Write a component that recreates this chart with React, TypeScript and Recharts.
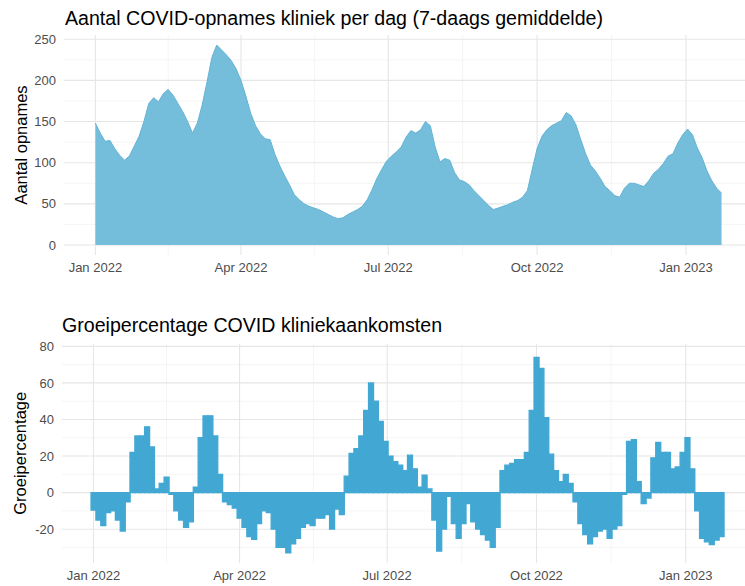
import React from "react";
import { ComposedChart, Area, Bar, XAxis, YAxis, CartesianGrid } from "recharts";

// one reading every 3 days, 1 Jan 2022 .. 23 Jan 2023
const dates = [
  "2022-01-01", "2022-01-04", "2022-01-07", "2022-01-10", "2022-01-13", "2022-01-16", "2022-01-19", "2022-01-22", "2022-01-25", "2022-01-28", "2022-01-31",
  "2022-02-03", "2022-02-06", "2022-02-09", "2022-02-12", "2022-02-15", "2022-02-18", "2022-02-21", "2022-02-24", "2022-02-27",
  "2022-03-02", "2022-03-05", "2022-03-08", "2022-03-11", "2022-03-14", "2022-03-17", "2022-03-20", "2022-03-23", "2022-03-26", "2022-03-29",
  "2022-04-01", "2022-04-04", "2022-04-07", "2022-04-10", "2022-04-13", "2022-04-16", "2022-04-19", "2022-04-22", "2022-04-25", "2022-04-28",
  "2022-05-01", "2022-05-04", "2022-05-07", "2022-05-10", "2022-05-13", "2022-05-16", "2022-05-19", "2022-05-22", "2022-05-25", "2022-05-28", "2022-05-31",
  "2022-06-03", "2022-06-06", "2022-06-09", "2022-06-12", "2022-06-15", "2022-06-18", "2022-06-21", "2022-06-24", "2022-06-27", "2022-06-30",
  "2022-07-03", "2022-07-06", "2022-07-09", "2022-07-12", "2022-07-15", "2022-07-18", "2022-07-21", "2022-07-24", "2022-07-27", "2022-07-30",
  "2022-08-02", "2022-08-05", "2022-08-08", "2022-08-11", "2022-08-14", "2022-08-17", "2022-08-20", "2022-08-23", "2022-08-26", "2022-08-29",
  "2022-09-01", "2022-09-04", "2022-09-07", "2022-09-10", "2022-09-13", "2022-09-16", "2022-09-19", "2022-09-22", "2022-09-25", "2022-09-28",
  "2022-10-01", "2022-10-04", "2022-10-07", "2022-10-10", "2022-10-13", "2022-10-16", "2022-10-19", "2022-10-22", "2022-10-25", "2022-10-28", "2022-10-31",
  "2022-11-03", "2022-11-06", "2022-11-09", "2022-11-12", "2022-11-15", "2022-11-18", "2022-11-21", "2022-11-24", "2022-11-27", "2022-11-30",
  "2022-12-03", "2022-12-06", "2022-12-09", "2022-12-12", "2022-12-15", "2022-12-18", "2022-12-21", "2022-12-24", "2022-12-27", "2022-12-30",
  "2023-01-02", "2023-01-05", "2023-01-08", "2023-01-11", "2023-01-14", "2023-01-17", "2023-01-20", "2023-01-23",
];

// Aantal opnames (7-daags gemiddelde)
const admissions = [
  148, 136, 126, 127, 117, 109, 103, 108, 120, 132, 150,
  172, 179, 174, 184, 189, 182, 172, 162, 150,
  136, 148, 170, 198, 228, 243, 237, 231, 224, 214,
  200, 181, 160, 145, 135, 129, 128, 110, 96, 84,
  73, 61, 55, 50, 47, 45, 43, 40, 37, 34, 32,
  33, 37, 40, 43, 47, 55, 67, 81, 92, 102,
  108, 113, 119, 131, 139, 136, 140, 150, 145, 119,
  101, 105, 103, 88, 79, 77, 73, 66, 60, 54,
  48, 43, 45, 47, 49, 52, 54, 58, 66, 92,
  117, 132, 140, 145, 148, 151, 161, 157, 146, 128, 111,
  97, 90, 81, 71, 66, 60, 58, 69, 75, 75,
  73, 71, 78, 87, 92, 99, 108, 111, 124, 134,
  141, 134, 118, 106, 90, 78, 69, 63,
];

// Groeipercentage (%)
const growth = [
  -9.5, -15, -18, -11, -10, -15, -21, -5, 22, 31, 31,
  36, 25, 2, 5, 8.5, -1, -10, -15, -19,
  -16, 3, 30, 42, 42, 31, 10, -5, -6.5, -8.5,
  -14, -19, -24, -25.5, -17, -10, -11, -20, -30, -30,
  -33, -28, -25, -19, -17, -18, -14, -14, -12, -20, -9,
  -12, 9, 21.5, 24, 31, 45, 60, 50, 39, 28,
  20, 17, 15, 12, 20.5, 13, 3, 9.5, 2, -15,
  -32, -20, -2, -17, -25, -17, -6, -16, -20, -23,
  -26, -30, -19, 12, 15, 16, 18, 18, 22, 45,
  74, 68, 41, 21, 12, 6, 10, 5, -5, -17, -23,
  -28, -24, -21, -20, -25, -20, -18, -1, 28, 29,
  6, -6, -3, 19, 27.5, 22, 22, 13, 14, 22,
  30, 13, -10, -25, -27, -28.5, -26, -24,
];

const monthTicks = ["2022-01-01", "2022-04-01", "2022-07-01", "2022-10-01", "2023-01-01"];
const monthLabels = ["Jan 2022", "Apr 2022", "Jul 2022", "Oct 2022", "Jan 2023"];
const minorMonthTicks = ["2022-02-15", "2022-05-16T12:00:00Z", "2022-08-16", "2022-11-16"];

const admissionTicks = [0, 50, 100, 150, 200, 250];
const admissionMinor = [25, 75, 125, 175, 225];
const growthTicks = [-20, 0, 20, 40, 60, 80];
const growthMinor = [-30, -10, 10, 30, 50, 70];

const DAY = 86400000;
const toDay = (s: string) => (Date.parse(s) - Date.parse("2022-01-01")) / DAY;

const rows = dates.map((d, i) => ({
  day: toDay(d),
  admissions: admissions[i],
  growth: growth[i],
}));

const majorDays = monthTicks.map(toDay);
const minorDays = minorMonthTicks.map(toDay);
const xDomain = [-19.4, 401.5];

const FONT = "'Liberation Sans', Arial, Helvetica, sans-serif";
const tickStyle = { fontSize: 13, fill: "#4d4d4d", fontFamily: FONT };

const fmtMonth = (v: number) => {
  const i = majorDays.indexOf(v);
  return i >= 0 ? monthLabels[i] : "";
};

const yTitle = (text: string) => ({
  value: text,
  angle: -90,
  position: "center" as const,
  dx: -11,
  style: { fontSize: 16.5, fill: "#000", fontFamily: FONT, textAnchor: "middle" as const },
});

const titleStyle: React.CSSProperties = {
  position: "absolute",
  fontFamily: FONT,
  fontSize: 19.6,
  lineHeight: "19.6px",
  color: "#000",
  whiteSpace: "nowrap",
};

export default function App() {
  return (
    <div
      style={{
        position: "fixed",
        top: 0,
        left: 0,
        width: 745,
        height: 586,
        background: "#fff",
        overflow: "hidden",
        fontFamily: FONT,
      }}
    >
      <div style={{ ...titleStyle, left: 65, top: 9.4 }}>
        Aantal COVID-opnames kliniek per dag (7-daags gemiddelde)
      </div>
      <div style={{ position: "absolute", top: 0, left: 0 }}>
        <ComposedChart width={745} height={280} data={rows} margin={{ top: 35, right: 0, bottom: 0, left: 0 }}>
          <CartesianGrid stroke="#f2f2f2" strokeWidth={0.8} verticalValues={minorDays} horizontalValues={admissionMinor} />
          <CartesianGrid stroke="#e6e6e6" strokeWidth={1.1} verticalValues={majorDays} horizontalValues={admissionTicks} />
          <XAxis
            type="number"
            dataKey="day"
            domain={xDomain}
            allowDataOverflow
            ticks={majorDays}
            interval={0}
            tickFormatter={fmtMonth}
            axisLine={false}
            tickLine={false}
            height={25}
            tick={tickStyle}
          />
          <YAxis
            type="number"
            domain={[-12.2, 255.2]}
            allowDataOverflow
            ticks={admissionTicks}
            interval={0}
            axisLine={false}
            tickLine={false}
            width={64}
            tick={tickStyle}
            label={yTitle("Aantal opnames")}
          />
          <Area
            type="linear"
            dataKey="admissions"
            fill="#74bddb"
            fillOpacity={1}
            stroke="#64b4d6"
            strokeWidth={1}
            dot={false}
            activeDot={false}
            isAnimationActive={false}
          />
        </ComposedChart>
      </div>

      <div style={{ ...titleStyle, left: 62, top: 316.4 }}>Groeipercentage COVID kliniekaankomsten</div>
      <div style={{ position: "absolute", top: 300, left: 0 }}>
        <ComposedChart
          width={745}
          height={286}
          data={rows}
          margin={{ top: 43.6, right: 0, bottom: 0, left: 0 }}
          barCategoryGap={0}
          barGap={0}
        >
          <CartesianGrid stroke="#f2f2f2" strokeWidth={0.8} verticalValues={minorDays} horizontalValues={growthMinor} />
          <CartesianGrid stroke="#e6e6e6" strokeWidth={1.1} verticalValues={majorDays} horizontalValues={growthTicks} />
          <XAxis
            type="number"
            dataKey="day"
            domain={xDomain}
            allowDataOverflow
            ticks={majorDays}
            interval={0}
            tickFormatter={fmtMonth}
            axisLine={false}
            tickLine={false}
            height={23}
            tick={tickStyle}
          />
          <YAxis
            type="number"
            domain={[-38.5, 81.5]}
            allowDataOverflow
            ticks={growthTicks}
            interval={0}
            axisLine={false}
            tickLine={false}
            width={62}
            tick={tickStyle}
            label={yTitle("Groeipercentage")}
          />
          {/* bar width gets truncated to whole pixels, the stroke closes the seams */}
          <Bar dataKey="growth" fill="#42a8d3" stroke="#42a8d3" strokeWidth={1.3} isAnimationActive={false} />
        </ComposedChart>
      </div>
    </div>
  );
}
